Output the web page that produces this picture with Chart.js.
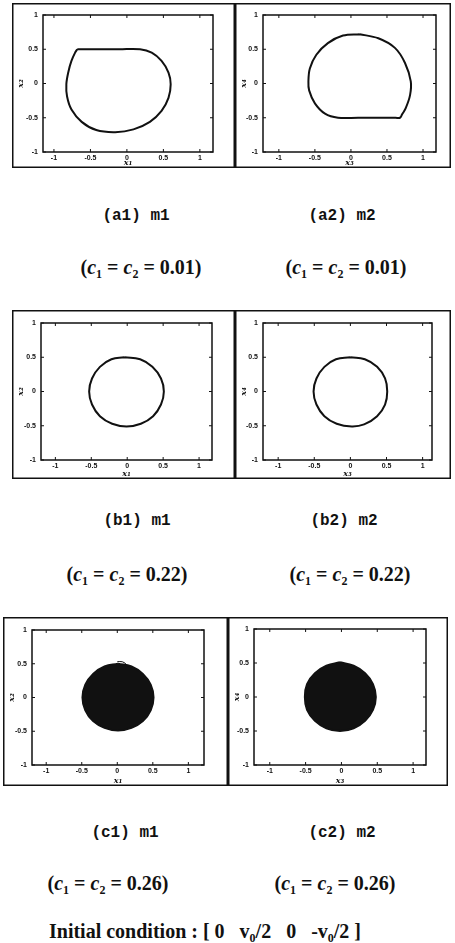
<!DOCTYPE html>
<html>
<head>
<meta charset="utf-8">
<script src="https://cdn.jsdelivr.net/npm/chart.js@4.4.1/dist/chart.umd.min.js"></script>
<style>
  html, body { margin: 0; padding: 0; background: #fff; }
  #page { position: relative; width: 455px; height: 943px; overflow: hidden; background: #fff; }
  canvas { position: absolute; }
  .cap { position: absolute; transform: translate(-50%, -50%); white-space: nowrap; line-height: 1; color: #111; }
  .mono { font-family: 'Liberation Mono', 'DejaVu Sans Mono', monospace; font-size: 16px; font-weight: bold; }
  .serif { font-family: 'Liberation Serif', 'DejaVu Serif', serif; font-size: 20px; font-weight: bold; }
  .serif sub { font-size: 0.6em; vertical-align: -0.3em; line-height: 0; }
</style>
</head>
<body>
<div id="page">
  <canvas id="a1"></canvas>
  <canvas id="a2"></canvas>
  <canvas id="b1"></canvas>
  <canvas id="b2"></canvas>
  <canvas id="c1"></canvas>
  <canvas id="c2"></canvas>

  <div class="cap mono" style="left:136px; top:216px;">(a1) m1</div>
  <div class="cap mono" style="left:342px; top:216px;">(a2) m2</div>
  <div class="cap serif" style="left:141px; top:267px;">(<i>c</i><sub>1</sub> = <i>c</i><sub>2</sub> = 0.01)</div>
  <div class="cap serif" style="left:346px; top:267px;">(<i>c</i><sub>1</sub> = <i>c</i><sub>2</sub> = 0.01)</div>

  <div class="cap mono" style="left:137px; top:521px;">(b1) m1</div>
  <div class="cap mono" style="left:344px; top:521px;">(b2) m2</div>
  <div class="cap serif" style="left:127px; top:574px;">(<i>c</i><sub>1</sub> = <i>c</i><sub>2</sub> = 0.22)</div>
  <div class="cap serif" style="left:350px; top:574px;">(<i>c</i><sub>1</sub> = <i>c</i><sub>2</sub> = 0.22)</div>

  <div class="cap mono" style="left:125px; top:833px;">(c1) m1</div>
  <div class="cap mono" style="left:342px; top:833px;">(c2) m2</div>
  <div class="cap serif" style="left:108px; top:883px;">(<i>c</i><sub>1</sub> = <i>c</i><sub>2</sub> = 0.26)</div>
  <div class="cap serif" style="left:335px; top:883px;">(<i>c</i><sub>1</sub> = <i>c</i><sub>2</sub> = 0.26)</div>

  <div class="cap serif" style="left:205px; top:931px;">Initial condition : [ 0 &nbsp; v<sub>0</sub>/2 &nbsp; 0 &nbsp; -v<sub>0</sub>/2 ]</div>
</div>

<script>
// axis ticks shared by every panel
const tickValues = [-1, -0.5, 0, 0.5, 1];
const tickLabels = ['-1', '-0.5', '0', '0.5', '1'];

// (a) c1 = c2 = 0.01
const a1X = [-0.68, -0.62, -0.40, -0.10, 0.18, 0.34, 0.475, 0.57, 0.60, 0.57, 0.475, 0.315, 0.09, -0.16, -0.42, -0.62, -0.76, -0.82, -0.83, -0.80, -0.76, -0.71, -0.68];
const a1Y = [0.50, 0.50, 0.50, 0.50, 0.50, 0.45, 0.33, 0.16, -0.01, -0.21, -0.40, -0.56, -0.67, -0.71, -0.68, -0.56, -0.38, -0.19, -0.01, 0.18, 0.33, 0.45, 0.50];
const a2X = [0.12, 0.38, 0.61, 0.75, 0.83, 0.82, 0.76, 0.71, 0.68, 0.62, 0.40, 0.10, -0.18, -0.36, -0.50, -0.58, -0.59, -0.57, -0.48, -0.32, -0.11, 0.12];
const a2Y = [0.72, 0.66, 0.52, 0.30, 0.03, -0.17, -0.36, -0.45, -0.50, -0.50, -0.50, -0.50, -0.50, -0.44, -0.29, -0.10, 0.03, 0.22, 0.42, 0.59, 0.70, 0.72];

// (b) c1 = c2 = 0.22
const b1X = [-0.04, 0.18, 0.35, 0.47, 0.51, 0.47, 0.36, 0.19, -0.01, -0.21, -0.38, -0.49, -0.53, -0.49, -0.38, -0.22, -0.04];
const b1Y = [0.50, 0.47, 0.36, 0.19, 0.00, -0.19, -0.36, -0.47, -0.51, -0.47, -0.36, -0.19, 0.00, 0.19, 0.36, 0.47, 0.50];
const b2X = [0.00, 0.20, 0.37, 0.48, 0.51, 0.48, 0.37, 0.19, 0.02, -0.19, -0.36, -0.47, -0.51, -0.47, -0.36, -0.20, 0.00];
const b2Y = [0.50, 0.47, 0.36, 0.19, 0.00, -0.19, -0.36, -0.48, -0.51, -0.47, -0.36, -0.19, 0.00, 0.19, 0.36, 0.47, 0.50];

// (c) c1 = c2 = 0.26 -- trajectory fills a disc
const c1X = [0.01, 0.20, 0.36, 0.47, 0.51, 0.47, 0.36, 0.20, 0.01, -0.18, -0.34, -0.45, -0.49, -0.45, -0.34, -0.18, 0.01];
const c1Y = [0.50, 0.46, 0.35, 0.19, 0.00, -0.19, -0.35, -0.45, -0.49, -0.45, -0.35, -0.19, 0.00, 0.19, 0.35, 0.46, 0.50];
const c1TailX = [0.00, 0.07, 0.12];
const c1TailY = [0.53, 0.53, 0.50];
const c2X = [-0.02, 0.17, 0.33, 0.44, 0.48, 0.44, 0.33, 0.17, -0.02, -0.21, -0.37, -0.48, -0.51, -0.48, -0.37, -0.21, -0.02];
const c2Y = [0.51, 0.46, 0.35, 0.19, 0.00, -0.19, -0.35, -0.46, -0.50, -0.46, -0.35, -0.19, 0.00, 0.19, 0.35, 0.46, 0.51];

// panel geometry: outer box and inner axes box in page pixels [left, top, right, bottom]
const panels = [
  { id: 'a1', box: [12, 3, 235, 168],    axes: [43, 15, 213, 152],   xr: [-1.15, 1.18], xs: a1X, ys: a1Y, xt: 'x₁', yt: 'x₂', filled: false, tension: 0.35 },
  { id: 'a2', box: [235, 3, 451, 168],   axes: [263, 15, 436, 152],  xr: [-1.22, 1.18], xs: a2X, ys: a2Y, xt: 'x₃', yt: 'x₄', filled: false, tension: 0.35 },
  { id: 'b1', box: [12, 310, 235, 479],  axes: [41, 323, 212, 460],  xr: [-1.20, 1.18], xs: b1X, ys: b1Y, xt: 'x₁', yt: 'x₂', filled: false, tension: 0.45 },
  { id: 'b2', box: [235, 310, 451, 479], axes: [263, 323, 432, 460], xr: [-1.21, 1.13], xs: b2X, ys: b2Y, xt: 'x₃', yt: 'x₄', filled: false, tension: 0.45 },
  { id: 'c1', box: [3, 617, 228, 786],   axes: [32, 630, 204, 765],  xr: [-1.20, 1.22], xs: c1X, ys: c1Y, xt: 'x₁', yt: 'x₂', filled: true, tension: 0.45,
    extra: { xs: c1TailX, ys: c1TailY } },
  { id: 'c2', box: [228, 617, 448, 786], axes: [254, 629, 426, 765], xr: [-1.22, 1.18], xs: c2X, ys: c2Y, xt: 'x₃', yt: 'x₄', filled: true, tension: 0.45 }
];

const ink = '#111';

// outer frame, axes box and inward ticks on all four sides
const framePlugin = {
  id: 'frame',
  afterDraw(chart) {
    const { ctx, chartArea: a, scales } = chart;
    const w = chart.width, h = chart.height;
    ctx.save();
    ctx.strokeStyle = ink;
    ctx.lineWidth = 1.5;
    ctx.strokeRect(0.75, 0.75, w - 1.5, h - 1.5);
    ctx.strokeRect(a.left, a.top, a.right - a.left, a.bottom - a.top);
    ctx.lineWidth = 1;
    ctx.beginPath();
    tickValues.forEach(v => {
      const px = scales.x.getPixelForValue(v);
      ctx.moveTo(px, a.bottom); ctx.lineTo(px, a.bottom - 3);
      ctx.moveTo(px, a.top); ctx.lineTo(px, a.top + 3);
      const py = scales.y.getPixelForValue(v);
      ctx.moveTo(a.left, py); ctx.lineTo(a.left + 3, py);
      ctx.moveTo(a.right, py); ctx.lineTo(a.right - 3, py);
    });
    ctx.stroke();
    ctx.restore();
  }
};

const tickFont = { family: "'Liberation Sans', Arial, sans-serif", size: 7, weight: 'bold' };
const titleFont = { family: "'DejaVu Serif', serif", size: 8, style: 'italic', weight: 'bold' };

const toPoints = (xs, ys) => xs.map((x, i) => ({ x, y: ys[i] }));

panels.forEach(p => {
  const [bl, bt, br, bb] = p.box;
  const [al, at, ar, ab] = p.axes;
  const canvas = document.getElementById(p.id);
  canvas.width = br - bl;
  canvas.height = bb - bt;
  canvas.style.left = bl + 'px';
  canvas.style.top = bt + 'px';

  const datasets = [{
    data: toPoints(p.xs, p.ys),
    borderColor: ink,
    backgroundColor: ink,
    borderWidth: 2,
    pointRadius: 0,
    tension: p.tension,
    fill: p.filled ? 'shape' : false
  }];
  if (p.extra) {
    datasets.push({
      data: toPoints(p.extra.xs, p.extra.ys),
      borderColor: ink,
      borderWidth: 1,
      pointRadius: 0,
      tension: 0.4,
      fill: false
    });
  }

  new Chart(canvas, {
    type: 'line',
    data: { datasets },
    options: {
      responsive: false,
      animation: false,
      events: [],
      layout: { padding: { top: at - bt, right: br - ar, left: 0, bottom: 0 } },
      plugins: { legend: { display: false }, tooltip: { enabled: false } },
      scales: {
        x: {
          type: 'linear',
          min: p.xr[0],
          max: p.xr[1],
          afterBuildTicks: s => { s.ticks = tickValues.map(v => ({ value: v })); },
          afterFit: s => { s.height = bb - ab; },
          grid: { display: false, drawTicks: false },
          border: { display: false },
          ticks: {
            font: tickFont, color: ink, padding: 2, maxRotation: 0, autoSkip: false,
            callback: v => tickLabels[tickValues.indexOf(v)]
          },
          title: { display: true, text: p.xt, font: titleFont, color: ink, padding: { top: 0, bottom: 0 } }
        },
        y: {
          type: 'linear',
          min: -1,
          max: 1,
          afterBuildTicks: s => { s.ticks = tickValues.map(v => ({ value: v })); },
          afterFit: s => { s.width = al - bl; },
          grid: { display: false, drawTicks: false },
          border: { display: false },
          ticks: {
            font: tickFont, color: ink, padding: 5, autoSkip: false,
            callback: v => tickLabels[tickValues.indexOf(v)]
          },
          title: { display: true, text: p.yt, font: titleFont, color: ink, padding: { top: 4, bottom: 0 } }
        }
      }
    },
    plugins: [framePlugin]
  });
});
</script>
</body>
</html>
